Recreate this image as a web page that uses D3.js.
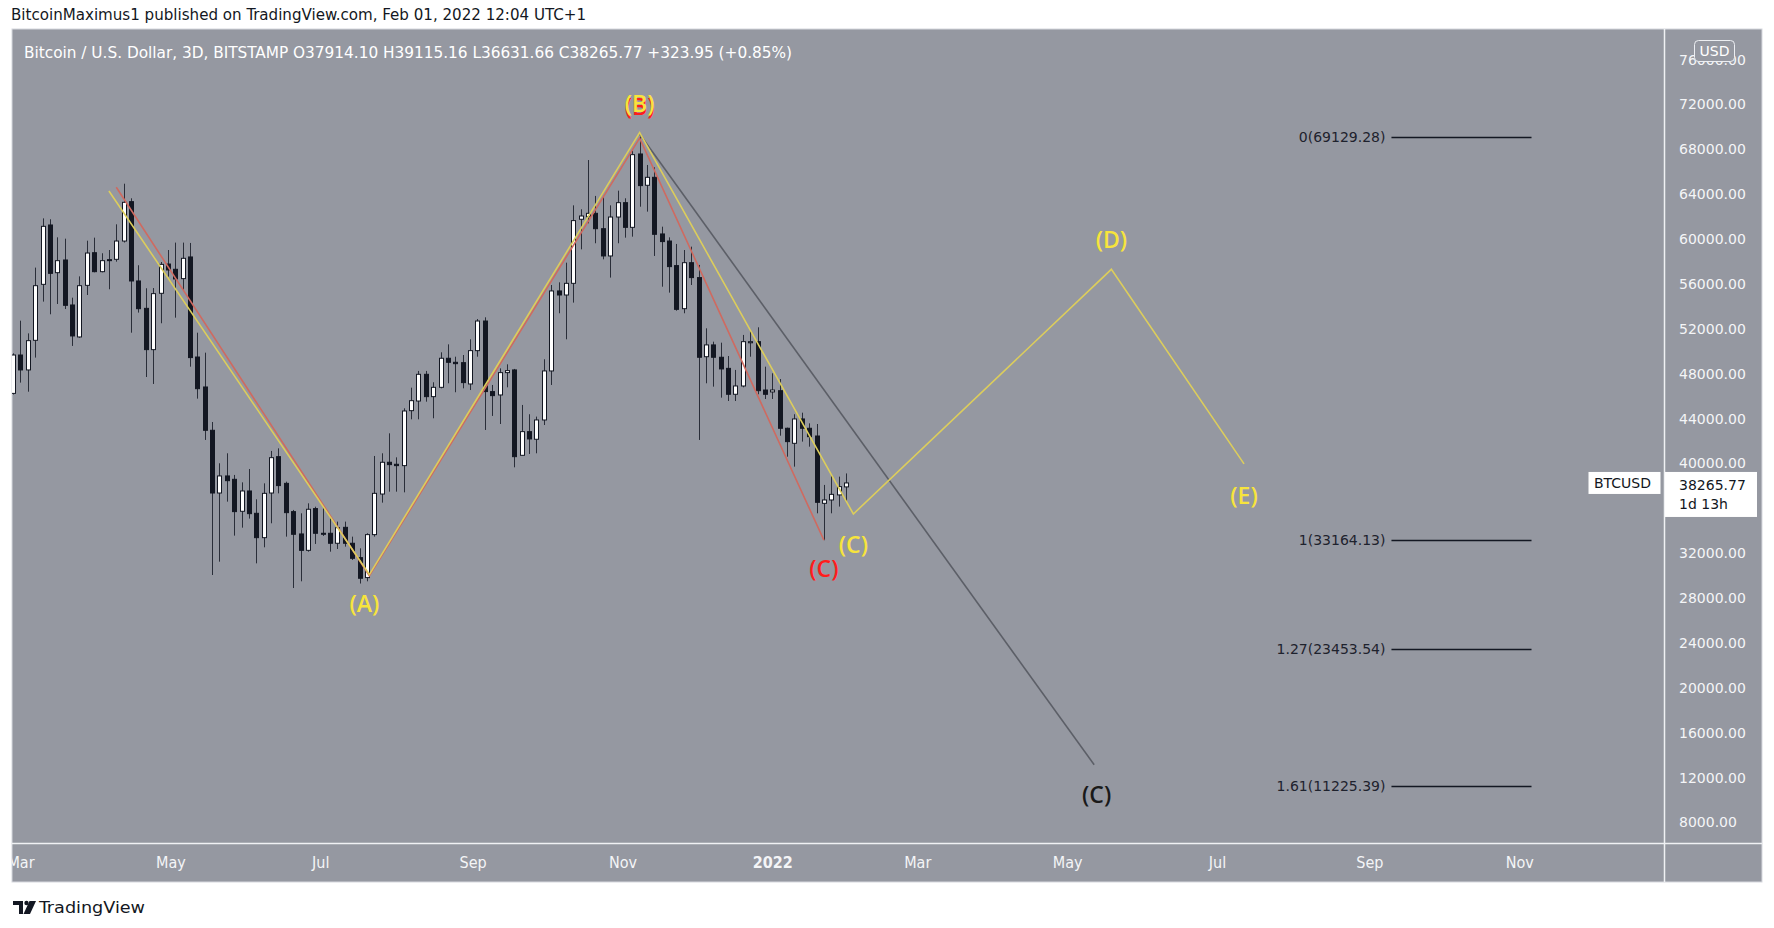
<!DOCTYPE html>
<html><head><meta charset="utf-8">
<script src="https://cdn.jsdelivr.net/npm/d3@7"></script>
<style>
html,body{margin:0;padding:0;background:#fff;}
svg{display:block;}
</style></head><body>
<svg id="chart" width="1774" height="928"></svg>
<script>
// ---------------- DATA ----------------
const headerText = "BitcoinMaximus1 published on TradingView.com, Feb 01, 2022 12:04 UTC+1";
const legendTitle = "Bitcoin / U.S. Dollar, 3D, BITSTAMP";
const legendValues = ["O37914.10", "H39115.16", "L36631.66", "C38265.77", "+323.95 (+0.85%)"];
const firstBar = "2021-02-26";
const lastBar = "2022-01-31";

const open = [
46250,49670,48340,50980,55970,61260,57010,58140,54130,51280,
55880,58790,57100,58170,58200,59830,63340,56270,53830,50150,
55170,57780,57310,56480,58410,49490,46820,42960,37370,38890,
38590,35740,37550,35560,33390,37370,40610,38230,35710,33720,
32260,35980,33780,33780,32890,34310,32890,31610,29830,33660,
37280,40110,39930,39810,44710,45570,47950,45960,46790,49380,
49020,48990,47090,50060,52700,46410,46110,48100,48340,40730,
42840,42160,43880,48250,55380,55020,56060,61770,62000,62300,
60930,58500,61970,63250,61050,67590,64800,65510,60460,59830,
57640,53800,57900,56570,49520,50570,49470,48480,46170,46910,
50760,50860,46550,46380,46490,43140,41800,43970,43140,42450,
36450,36750,37200,37914.10];
const high = [
49820,52730,51600,57460,61850,61770,60160,60040,54780,56680,
59860,60130,58740,59030,61320,64940,63640,57670,55620,55640,
57960,59030,59690,59690,59660,51660,49880,43700,40020,40910,
38980,38320,39510,36810,38230,41120,41350,38380,35860,35560,
36450,36150,36010,35120,34820,34820,33480,32440,33780,40670,
40910,42690,40550,44920,46760,48250,48250,47240,49910,50620,
49520,49670,51070,52880,53030,47000,48480,48840,48430,45220,
44390,44180,49290,55910,56150,57900,63010,62660,67050,63850,
63850,63010,64320,63640,67890,69130,66610,66400,61110,60160,
59570,59030,59330,57700,52050,50860,50770,49580,48340,51460,
51900,52140,48630,48040,47530,43200,44390,44530,43580,43520,
38090,38980,38830,39115.16];
const low = [
46150,47210,46400,49440,54430,53300,54220,53770,50480,51200,
55020,57040,57040,55530,57990,59700,51660,53450,47710,47090,
52500,56660,53000,55410,48630,45780,42100,30060,31250,36600,
33570,34280,35090,31100,32530,34670,37340,33480,28900,29500,
32140,32830,33540,32140,32380,32590,31400,29300,29500,33480,
36510,37490,37490,37430,43940,43940,45510,44030,46700,47150,
46350,46700,46550,49520,42990,44240,43520,46790,39660,40700,
40850,40910,43430,47000,53390,51070,54340,59090,61410,59630,
58200,56570,59630,60130,60220,62890,62450,58500,55760,55230,
53620,53390,55910,42100,47150,46850,45870,45570,45570,46790,
49520,46170,45750,45750,42480,40610,39720,41950,41500,35560,
33164.13,35560,36160,36631.66];
const close = [
49670,48340,50950,55850,61140,56950,58080,54100,51370,55850,
58760,57100,58080,58120,59830,63280,56270,53800,50150,55140,
57750,57250,56450,58290,49440,46670,42960,37370,38890,38470,
35710,37550,35530,33390,37340,40520,38030,35620,33690,32260,
35920,33780,33700,32890,34280,32890,31550,29770,33660,37340,
40110,39900,39810,44680,45600,47950,45960,46790,49380,49020,
48900,47210,50060,52700,46410,46050,48100,48280,40610,42840,
42190,43880,48250,55380,55020,56060,61650,62060,62300,60930,
58500,61970,63250,61050,67530,64770,65510,60430,59780,57550,
53740,57900,56570,49470,50570,49470,48430,46170,46910,50860,
50860,46490,46170,46550,43140,41950,43970,43140,42390,36540,
36750,37250,37940,38265.77];

const priceTicks = [8000,12000,16000,20000,24000,28000,32000,40000,44000,48000,52000,56000,60000,64000,68000,72000,76000];
const monthDates = ["2021-03-01","2021-05-01","2021-07-01","2021-09-01","2021-11-01","2022-01-01","2022-03-01","2022-05-01","2022-07-01","2022-09-01","2022-11-01"];
const monthLabels = ["Mar","May","Jul","Sep","Nov","2022","Mar","May","Jul","Sep","Nov"];

const yellowWaveDates = ["2021-04-06","2021-07-21","2021-11-08","2022-02-03","2022-05-19","2022-07-12"];
const yellowWavePrices = [64290,30100,69490,35500,57310,39970];
const redWaveDates = ["2021-04-09","2021-07-21","2021-11-08","2022-01-22"];
const redWavePrices = [64620,30000,69000,33164];
const grayWaveDates = ["2021-11-08","2022-05-12"];
const grayWavePrices = [69370,13150];

const yellowLabelText = ["(A)","(B)","(C)","(D)","(E)"];
const yellowLabelDates = ["2021-07-19","2021-11-08","2022-02-03","2022-05-19","2022-07-12"];
const yellowLabelPrices = [27480,72090,32740,59920,37150];
const redLabelText = ["(B)","(C)"];
const redLabelDates = ["2021-11-08","2022-01-22"];
const redLabelPrices = [71820,30570];
const darkLabelText = ["(C)"];
const darkLabelDates = ["2022-05-13"];
const darkLabelPrices = [10420];

const fibRatios = ["0","1","1.27","1.61"];
const fibPrices = [69129.28,33164.13,23453.54,11225.39];
const fibStart = "2022-09-10", fibEnd = "2022-11-06";

const lastPrice = 38265.77;
const countdown = "1d 13h";

// ---------------- LAYOUT ----------------
const P = {left:12, right:1664, top:29, bottom:843, axisBottom:882, axisRight:1762};
const BG = "#9598a1";
const narrow = "'Liberation Sans Narrow','DejaVu Sans Condensed','Roboto Condensed',sans-serif";
const ui = "'DejaVu Sans',Verdana,sans-serif";
const lab = "'Open Sans','Noto Sans',sans-serif";
const parse = s => new Date(s + "T00:00:00Z");

const svg = d3.select("#chart");
const x = d3.scaleUtc().domain([parse("2022-01-01"), parse("2023-01-01")]).range([772.3, 1669.1]);
const y = d3.scaleLinear().domain([8000, 72000]).range([822.5, 104.5]);

// header
svg.append("text").attr("x",11).attr("y",14).attr("dy","0.35em")
  .attr("font-family",narrow).attr("font-size",16).attr("fill","#131722")
  .attr("textLength",575).attr("lengthAdjust","spacingAndGlyphs").text(headerText);

// panel backgrounds
svg.append("rect").attr("x",P.left).attr("y",P.top).attr("width",P.axisRight-P.left).attr("height",P.axisBottom-P.top)
  .attr("fill",BG).attr("stroke","#d6d8de").attr("stroke-width",1);

const defs = svg.append("defs");
defs.append("clipPath").attr("id","plotClip").append("rect")
  .attr("x",P.left).attr("y",P.top).attr("width",P.right-P.left).attr("height",P.bottom-P.top);
defs.append("clipPath").attr("id","timeClip").append("rect")
  .attr("x",P.left).attr("y",P.bottom).attr("width",P.right-P.left).attr("height",P.axisBottom-P.bottom);

const plot = svg.append("g").attr("clip-path","url(#plotClip)");

// candles
const dates = d3.utcDay.range(parse(firstBar), d3.utcDay.offset(parse(lastBar),1), 3);
const bars = dates.map((d,i)=>({d, o:open[i], h:high[i], l:low[i], c:close[i]}));
const cg = plot.append("g");
bars.forEach(b=>{
  const cx = Math.round(x(b.d));
  cg.append("line").attr("x1",cx+0.5).attr("x2",cx+0.5).attr("y1",y(b.h)).attr("y2",y(b.l))
    .attr("stroke","#2a2e39").attr("stroke-width",1);
  const up = b.c >= b.o;
  const top = y(Math.max(b.o,b.c)), bot = y(Math.min(b.o,b.c));
  cg.append("rect").attr("x",cx-1.5).attr("y",top).attr("width",4).attr("height",Math.max(1,bot-top))
    .attr("fill", up ? "#ffffff" : "#131722").attr("stroke","#131722").attr("stroke-width",1);
});

// wave lines
const lineGen = d3.line().x(d=>x(parse(d[0]))).y(d=>y(d[1]));
plot.append("path").attr("d",lineGen(d3.zip(grayWaveDates,grayWavePrices)))
  .attr("fill","none").attr("stroke","#5c5f67").attr("stroke-width",1.6);
plot.append("path").attr("d",lineGen(d3.zip(redWaveDates,redWavePrices)))
  .attr("fill","none").attr("stroke","#cf6a60").attr("stroke-width",1.6);
plot.append("path").attr("d",lineGen(d3.zip(yellowWaveDates,yellowWavePrices)))
  .attr("fill","none").attr("stroke","#dccd5c").attr("stroke-width",1.6);

// wave labels
function labels(texts, ds, ps, color){
  texts.forEach((t,i)=>{
    plot.append("text").attr("x",x(parse(ds[i]))).attr("y",y(ps[i])).attr("dy","0.35em")
      .attr("text-anchor","middle").attr("font-family",lab).attr("font-size",23).attr("font-weight",600)
      .attr("fill",color).text(t);
  });
}
labels(redLabelText, redLabelDates, redLabelPrices, "#ff1c1c");
labels(yellowLabelText, yellowLabelDates, yellowLabelPrices, "#f7e43c");
labels(darkLabelText, darkLabelDates, darkLabelPrices, "#1a1a1a");

// fib levels
fibPrices.forEach((p,i)=>{
  plot.append("line").attr("x1",x(parse(fibStart))).attr("x2",x(parse(fibEnd)))
    .attr("y1",Math.round(y(p))+0.5).attr("y2",Math.round(y(p))+0.5)
    .attr("stroke","#131722").attr("stroke-width",1.5);
  plot.append("text").attr("x",x(parse(fibStart))-6).attr("y",y(p)).attr("dy","0.35em")
    .attr("text-anchor","end").attr("font-family",ui).attr("font-size",14).attr("fill","#1e222d")
    .text(fibRatios[i] + "(" + p.toFixed(2) + ")");
});

// legend
const lg = svg.append("text").attr("x",24).attr("y",52).attr("dy","0.35em")
  .attr("font-family",narrow).attr("font-size",16).attr("fill","#ffffff")
  .attr("textLength",768).attr("lengthAdjust","spacingAndGlyphs");
lg.text(legendTitle + "  " + legendValues.join("  "));

// separators
svg.append("line").attr("x1",P.right+0.5).attr("x2",P.right+0.5).attr("y1",P.top).attr("y2",P.axisBottom)
  .attr("stroke","#f0f1f4").attr("stroke-width",1.5);
svg.append("line").attr("x1",P.left).attr("x2",P.axisRight).attr("y1",P.bottom+0.5).attr("y2",P.bottom+0.5)
  .attr("stroke","#f0f1f4").attr("stroke-width",1.5);

// price axis
const yAxis = d3.axisRight(y).tickValues(priceTicks).tickFormat(d=>d.toFixed(2)).tickSize(0).tickPadding(0);
const ya = svg.append("g").attr("transform",`translate(1679,0)`).call(yAxis);
ya.select(".domain").remove();
ya.selectAll("text").attr("font-family",ui).attr("font-size",14).attr("fill","#f4f5f7");

// USD badge
svg.append("rect").attr("x",1694.5).attr("y",40.5).attr("width",40).attr("height",21).attr("rx",4)
  .attr("fill",BG).attr("stroke","#eceef2").attr("stroke-width",1);
svg.append("text").attr("x",1714.5).attr("y",51).attr("dy","0.35em").attr("text-anchor","middle")
  .attr("font-family",ui).attr("font-size",14).attr("fill","#ffffff").text("USD");

// last price tags
const ly = y(lastPrice);
svg.append("rect").attr("x",1588.5).attr("y",ly-11).attr("width",72).attr("height",22).attr("fill","#ffffff");
svg.append("text").attr("x",1594).attr("y",ly).attr("dy","0.35em").attr("font-family",ui).attr("font-size",14)
  .attr("fill","#131722").text("BTCUSD");
svg.append("rect").attr("x",1665).attr("y",ly-11).attr("width",92).attr("height",45).attr("fill","#ffffff");
svg.append("text").attr("x",1679).attr("y",ly+2).attr("dy","0.35em").attr("font-family",ui).attr("font-size",14)
  .attr("fill","#131722").text(lastPrice.toFixed(2));
svg.append("text").attr("x",1679).attr("y",ly+21).attr("dy","0.35em").attr("font-family",ui).attr("font-size",14)
  .attr("fill","#131722").text(countdown);

// time axis
const xAxis = d3.axisBottom(x).tickValues(monthDates.map(parse)).tickFormat((d,i)=>monthLabels[i]).tickSize(0).tickPadding(0);
const xa = svg.append("g").attr("clip-path","url(#timeClip)").append("g").attr("transform",`translate(0,862)`).call(xAxis);
xa.select(".domain").remove();
xa.selectAll("text").attr("y",0).attr("dy","0.35em").attr("font-family",narrow).attr("font-size",16)
  .attr("fill","#f4f5f7").attr("font-weight",(d,i)=>monthLabels[i]==="2022"?"bold":"normal");

// footer logo
const fg = svg.append("g").attr("fill","#131722");
fg.append("path").attr("d","M13 901 h10 v13 h-4 v-9 h-6 z");
fg.append("circle").attr("cx",26.5).attr("cy",903).attr("r",2.2);
fg.append("path").attr("d","M29.5 901 h6.5 l-6 13 h-6.5 z");
svg.append("text").attr("x",39).attr("y",907.5).attr("dy","0.35em").attr("font-family",narrow).attr("font-size",16)
  .attr("fill","#131722").attr("textLength",106).attr("lengthAdjust","spacingAndGlyphs").text("TradingView");
</script>
</body></html>
